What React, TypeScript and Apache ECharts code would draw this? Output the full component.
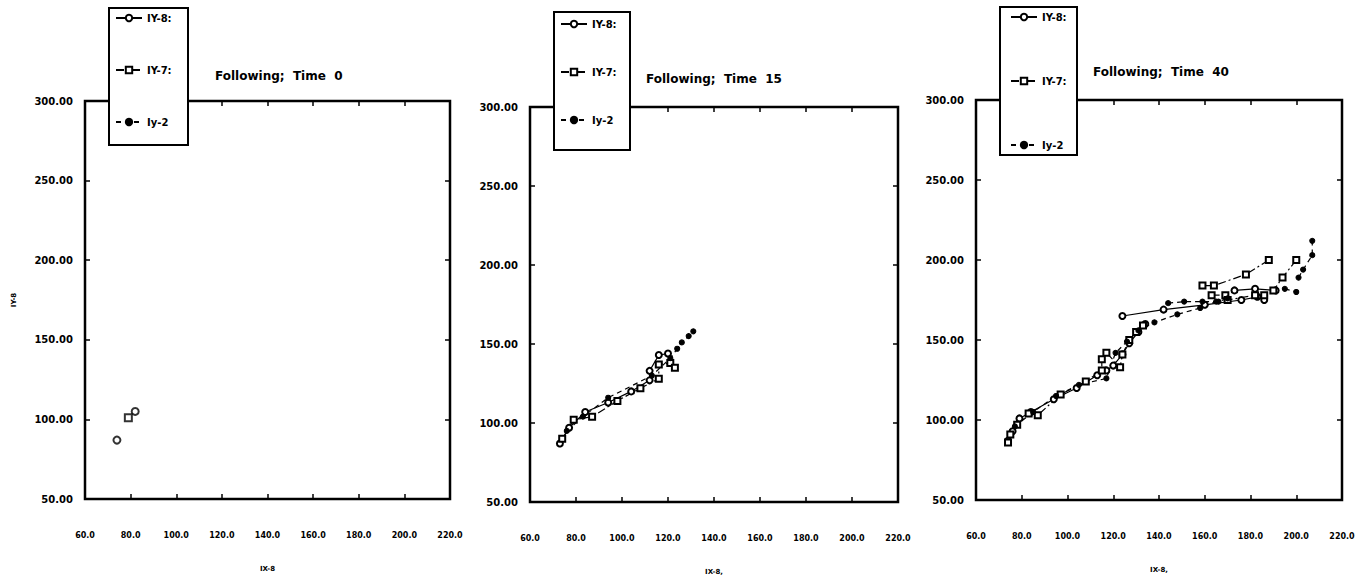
import React, { useEffect, useRef } from "react";
import * as echarts from "echarts";

// ---- axis / text content ----
const X_MIN = 60;
const X_MAX = 220;
const X_STEP = 20;
const Y_MIN = 50;
const Y_MAX = 300;
const Y_STEP = 50;
const panelTitles = ["Following;  Time  0", "Following;  Time  15", "Following;  Time  40"];
const seriesNames = ["IY-8:", "IY-7:", "Iy-2"];
const xAxisNames = ["IX-8", "IX-8,", "IX-8,"];
const yAxisNames = ["IY-8", "", ""];

// ---- data: Time 0 ----
const t0_IY8 = [[74, 87], [82, 105]];
const t0_IY7 = [[79, 101]];

// ---- data: Time 15 ----
const t15_IY8 = [[73, 87], [77, 97], [84, 107], [94, 113], [104, 120], [112, 127], [112, 133], [116, 143], [120, 144]];
const t15_IY7 = [[74, 90], [79, 102], [87, 104], [98, 114], [108, 122], [116, 128], [116, 137], [121, 138], [123, 135]];
const t15_Iy2 = [[76, 95], [83, 104], [94, 116], [113, 130], [121, 141], [124, 147], [126, 151], [129, 155], [131, 158]];

// ---- data: Time 40 (several branches per series) ----
const t40_IY8_a = [[74, 87], [76, 93], [79, 101], [84, 105], [94, 113], [104, 120], [113, 128], [117, 131], [120, 134], [124, 141], [127, 148], [131, 155], [134, 160]];
const t40_IY8_b = [[124, 165], [142, 169], [160, 172], [176, 175], [183, 177], [186, 175]];
const t40_IY8_c = [[173, 181], [182, 182], [191, 181]];
const t40_IY7_a = [[74, 86], [75, 91], [78, 97], [83, 104], [87, 103], [97, 116], [108, 124], [115, 131], [115, 138], [117, 142], [123, 133], [124, 141], [127, 150], [130, 155], [133, 159]];
const t40_IY7_b = [[159, 184], [164, 184], [178, 191], [188, 200]];
const t40_IY7_c = [[163, 178], [169, 178], [170, 175], [182, 178], [186, 178]];
const t40_IY7_d = [[200, 200], [194, 189], [190, 181]];
const t40_Iy2_a = [[77, 96], [85, 105], [95, 115], [105, 122], [117, 126], [121, 142], [126, 149], [131, 156], [138, 161], [148, 166], [158, 170], [165, 174]];
const t40_Iy2_b = [[144, 173], [151, 174], [159, 174], [166, 174], [170, 176]];
const t40_Iy2_c = [[195, 182], [200, 180]];
const t40_Iy2_d = [[201, 189], [203, 194], [207, 203], [207, 212]];

const FONT = "DejaVu Sans";

const kinds: Record<string, any> = {
  "IY-8:": { symbol: "emptyCircle", symbolSize: 6, type: "solid" },
  "IY-7:": { symbol: "emptyRect", symbolSize: 6, type: [8, 3, 2, 3] },
  "Iy-2": { symbol: "circle", symbolSize: 5, type: [5, 4] },
};

function lineSeries(name: string, data: number[][], idx: number) {
  const k = kinds[name];
  return {
    type: "line",
    name,
    data,
    xAxisIndex: idx,
    yAxisIndex: idx,
    symbol: k.symbol,
    symbolSize: k.symbolSize,
    showSymbol: true,
    silent: true,
    lineStyle: { color: "#000", width: 1.2, type: k.type },
    itemStyle: { color: "#000", borderColor: "#000", borderWidth: 1.1 },
    z: 5,
  };
}

function scatterSeries(name: string, data: number[][], idx: number) {
  const k = kinds[name];
  return {
    type: "scatter",
    name,
    data,
    xAxisIndex: idx,
    yAxisIndex: idx,
    symbol: k.symbol,
    symbolSize: k.symbolSize + 1,
    silent: true,
    itemStyle: { color: "#000", borderColor: "#000", borderWidth: 1.2 },
    z: 5,
  };
}

const grids = [
  { left: 85, top: 101, width: 365, height: 398 },
  { left: 530, top: 107, width: 368, height: 395 },
  { left: 976, top: 100, width: 366, height: 400 },
];
const titlePos = [
  { left: 215, top: 70 },
  { left: 646, top: 73 },
  { left: 1093, top: 66 },
];
const legendBoxes = [
  { x: 109, y: 8, w: 79, h: 137, left: 115, top: 12, gap: 40 },
  { x: 554, y: 12, w: 76, h: 138, left: 560, top: 18, gap: 36 },
  { x: 1000, y: 7, w: 77, h: 148, left: 1010, top: 11, gap: 52 },
];

export default function App() {
  const ref = useRef<HTMLDivElement>(null);
  useEffect(() => {
    document.body.style.margin = "0";
    if (!ref.current) return;
    const chart = echarts.init(ref.current, undefined, { renderer: "svg" });

    const tickStyle = { show: true, inside: true, length: 5, lineStyle: { color: "#000", width: 1.5 } };
    const xAxes: any[] = [];
    const yAxes: any[] = [];
    grids.forEach((_, i) => {
      xAxes.push({
        type: "value",
        gridIndex: i,
        min: X_MIN,
        max: X_MAX,
        interval: X_STEP,
        position: "bottom",
        axisLine: { show: false },
        axisTick: tickStyle,
        splitLine: { show: false },
        axisLabel: {
          margin: 32,
          formatter: (v: number) => v.toFixed(1),
          fontFamily: FONT,
          fontWeight: "bold",
          fontSize: 8,
          color: "#000",
        },
        name: xAxisNames[i],
        nameLocation: "middle",
        nameGap: 66,
        nameTextStyle: { fontFamily: FONT, fontWeight: "bold", fontSize: 7, color: "#000" },
      });
      yAxes.push({
        type: "value",
        gridIndex: i,
        min: Y_MIN,
        max: Y_MAX,
        interval: Y_STEP,
        position: "left",
        axisLine: { show: false },
        axisTick: tickStyle,
        splitLine: { show: false },
        axisLabel: {
          margin: 12,
          formatter: (v: number) => v.toFixed(2),
          fontFamily: FONT,
          fontWeight: "bold",
          fontSize: 10,
          color: "#000",
        },
        name: yAxisNames[i],
        nameLocation: "middle",
        nameGap: 68,
        nameRotate: 90,
        nameTextStyle: { fontFamily: FONT, fontWeight: "bold", fontSize: 7, color: "#000" },
      });
    });
    grids.forEach((_, i) => {
      xAxes.push({
        type: "value",
        gridIndex: i,
        min: X_MIN,
        max: X_MAX,
        interval: X_STEP,
        position: "top",
        axisLine: { show: false },
        axisTick: tickStyle,
        splitLine: { show: false },
        axisLabel: { show: false },
      });
      yAxes.push({
        type: "value",
        gridIndex: i,
        min: Y_MIN,
        max: Y_MAX,
        interval: Y_STEP,
        position: "right",
        axisLine: { show: false },
        axisTick: tickStyle,
        splitLine: { show: false },
        axisLabel: { show: false },
      });
    });

    const series: any[] = [
      lineSeries("IY-8:", t40_IY8_a, 2),
      lineSeries("IY-7:", t40_IY7_a, 2),
      lineSeries("Iy-2", t40_Iy2_a, 2),
      lineSeries("IY-8:", t40_IY8_b, 2),
      lineSeries("IY-8:", t40_IY8_c, 2),
      lineSeries("IY-7:", t40_IY7_b, 2),
      lineSeries("IY-7:", t40_IY7_c, 2),
      lineSeries("IY-7:", t40_IY7_d, 2),
      lineSeries("Iy-2", t40_Iy2_b, 2),
      lineSeries("Iy-2", t40_Iy2_c, 2),
      lineSeries("Iy-2", t40_Iy2_d, 2),
      lineSeries("IY-8:", t15_IY8, 1),
      lineSeries("IY-7:", t15_IY7, 1),
      lineSeries("Iy-2", t15_Iy2, 1),
      scatterSeries("IY-8:", t0_IY8, 0),
      scatterSeries("IY-7:", t0_IY7, 0),
    ];

    const option: any = {
      animation: false,
      backgroundColor: "#fff",
      title: panelTitles.map((t, i) => ({
        text: t,
        left: titlePos[i].left,
        top: titlePos[i].top,
        padding: 0,
        textStyle: { fontFamily: FONT, fontWeight: "bold", fontSize: 12, color: "#000" },
      })),
      grid: grids.map((g) => ({
        ...g,
        show: true,
        borderColor: "#000",
        borderWidth: 2.5,
        backgroundColor: "transparent",
        containLabel: false,
      })),
      xAxis: xAxes,
      yAxis: yAxes,
      legend: legendBoxes.map((b) => ({
        orient: "vertical",
        left: b.left,
        top: b.top,
        padding: 0,
        itemGap: b.gap,
        itemWidth: 26,
        itemHeight: 8,
        selectedMode: false,
        z: 200,
        data: seriesNames,
        textStyle: { fontFamily: FONT, fontWeight: "bold", fontSize: 10, color: "#000", lineHeight: 12 },
      })),
      graphic: {
        elements: legendBoxes.map((b) => ({
          type: "rect",
          z: 100,
          shape: { x: b.x, y: b.y, width: b.w, height: b.h },
          style: { fill: "#fff", stroke: "#000", lineWidth: 2 },
        })),
      },
      series,
    };
    chart.setOption(option);
    return () => chart.dispose();
  }, []);
  return <div ref={ref} style={{ width: 1372, height: 580 }} />;
}
